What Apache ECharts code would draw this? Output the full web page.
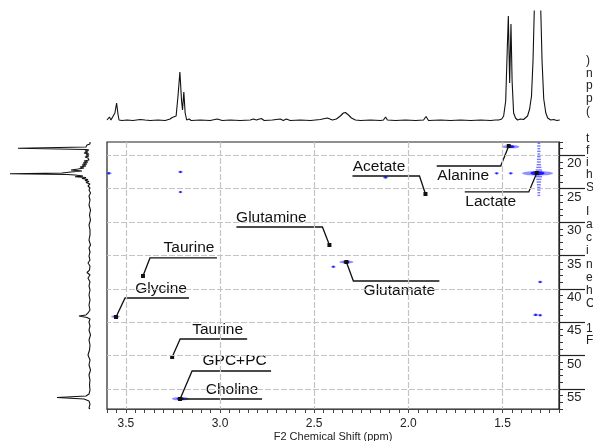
<!DOCTYPE html>
<html>
<head>
<meta charset="utf-8">
<script src="https://cdn.jsdelivr.net/npm/echarts@6/dist/echarts.min.js"></script>
<style>
html, body { margin: 0; padding: 0; background: #fff; }
#chart { width: 593px; height: 441px; }
</style>
</head>
<body>
<div id="chart"></div>
<script>
// F2 (1H) projection on top: [ppm, intensity]
var protonTrace = [
  [3.600, 1], [3.595, 1], [3.587, 4], [3.579, 1], [3.569, 2], [3.558, 8], [3.549, 18],
  [3.541, 6], [3.536, 1], [3.520, 0.5], [3.494, 1], [3.462, 0.5], [3.424, 1.5], [3.414, 2],
  [3.398, 1], [3.371, 0.5], [3.329, 1], [3.291, 0.5], [3.265, 2], [3.254, 3.5], [3.244, 2],
  [3.233, 5], [3.223, 25], [3.213, 49], [3.204, 20], [3.199, 11], [3.192, 29], [3.185, 8],
  [3.177, 1], [3.164, 2], [3.153, 0.5], [3.105, 1], [3.052, 0.5], [3.015, 2], [2.988, 0.5],
  [2.946, 1], [2.893, 0.5], [2.839, 1], [2.823, 2], [2.807, 1], [2.781, 2.5], [2.765, 0.5],
  [2.722, 1], [2.680, 2], [2.664, 0.5], [2.648, 2], [2.627, 0.5], [2.573, 1], [2.520, 0.5],
  [2.467, 1.5], [2.430, 3], [2.403, 1], [2.382, 2], [2.361, 5], [2.345, 8], [2.334, 8.5],
  [2.318, 6], [2.302, 3], [2.281, 1], [2.254, 0.5], [2.201, 1], [2.148, 0.5], [2.132, 1],
  [2.121, 4], [2.111, 1], [2.068, 0.5], [2.015, 1], [1.962, 0.5], [1.919, 1], [1.906, 4.5],
  [1.893, 0.5], [1.829, 1], [1.776, 0.5], [1.722, 1], [1.669, 0.5], [1.616, 1], [1.563, 0.5],
  [1.537, 1], [1.528, 3], [1.520, 1], [1.504, 2], [1.494, 5], [1.483, 20], [1.475, 70],
  [1.469, 105], [1.462, 38], [1.455, 97], [1.449, 40], [1.441, 8], [1.431, 3], [1.420, 1],
  [1.404, 2], [1.388, 1.5], [1.378, 3], [1.367, 5], [1.356, 12], [1.346, 25], [1.338, 60],
  [1.330, 120], [1.314, 400], [1.298, 120], [1.290, 60], [1.281, 22], [1.270, 8], [1.260, 3],
  [1.244, 1], [1.228, 1.5], [1.212, 0.5], [1.196, 1]
];

// F1 (13C) projection on the left: [ppm, intensity]
var carbonTrace = [
  [18.00, 2], [18.15, 4], [18.30, 2], [18.45, 5], [18.60, 3], [18.75, 6], [18.94, 74],
  [19.12, 6], [19.20, 3], [19.35, 7], [19.50, 4], [19.65, 8], [19.80, 3], [19.95, 6],
  [20.10, 3], [20.25, 7], [20.40, 4], [20.55, 6], [20.70, 3], [20.85, 8], [21.00, 4],
  [21.15, 9], [21.30, 5], [21.45, 10], [21.60, 6], [21.75, 12], [21.90, 8], [22.05, 14],
  [22.19, 21], [22.34, 10], [22.49, 21], [22.64, 30], [22.75, 82], [22.87, 25], [22.94, 17],
  [23.09, 9], [23.20, 17], [23.32, 6], [23.47, 10], [23.62, 4], [23.77, 7], [23.92, 3],
  [24.07, 6], [24.29, 2], [24.59, 4], [24.89, 2], [25.19, 3], [25.64, 1.5], [26.09, 3],
  [26.69, 2], [27.44, 3], [28.19, 1.5], [28.94, 2.5], [29.69, 1.5], [30.43, 3], [31.18, 2],
  [31.93, 2], [32.68, 3], [33.43, 1.5], [33.88, 3], [34.48, 2], [35.08, 3], [35.68, 2],
  [36.13, 4], [36.58, 2], [37.18, 2.5], [37.55, 5], [37.93, 2], [38.37, 4], [38.97, 2],
  [39.57, 3], [40.17, 2], [40.92, 3], [41.66, 2], [42.42, 3], [43.17, 2], [43.61, 4],
  [43.91, 6], [44.06, 13], [44.28, 5], [44.52, 2], [44.97, 3], [45.57, 2], [46.17, 3],
  [46.91, 1.5], [47.66, 3], [48.41, 2], [49.16, 2.5], [49.91, 4], [50.67, 2], [51.41, 3],
  [52.16, 1.5], [52.91, 3], [53.66, 2], [54.40, 2.5], [55.16, 2], [55.76, 3], [56.06, 6],
  [56.28, 35], [56.51, 8], [56.81, 3], [57.26, 2], [57.86, 3], [58.00, 2]
];

// 2D cross peaks: [F2 ppm, F1 ppm, intensity]
var crossPeaks = [
  [1.314, 22.69, 10], [1.456, 18.7, 5], [2.329, 35.98, 4], [3.555, 44.15, 2],
  [3.210, 56.45, 5], [3.590, 22.70, 1], [3.210, 22.50, 0.6], [3.210, 25.50, 0.4],
  [2.121, 23.30, 0.8], [2.398, 36.70, 0.6], [1.531, 22.70, 0.6], [1.456, 22.70, 0.6],
  [1.300, 38.97, 0.6], [1.324, 43.90, 0.8], [1.300, 43.95, 0.5]
];

// t1 noise ridge through the lactate peak: [F2 ppm, F1 ppm, intensity]
var t1Ridge = [
  [1.307, 18.2, 1], [1.307, 18.6, 1.5], [1.307, 19.0, 1], [1.307, 19.4, 1.5], [1.307, 19.8, 1],
  [1.307, 20.2, 1.5], [1.307, 20.6, 2], [1.307, 21.0, 2], [1.307, 21.4, 2.5], [1.307, 21.8, 3],
  [1.307, 22.2, 4], [1.307, 23.2, 4], [1.307, 23.6, 3], [1.307, 24.0, 2.5], [1.307, 24.4, 2],
  [1.307, 24.8, 1.5], [1.307, 25.2, 1.5], [1.307, 25.6, 1], [1.307, 26.0, 1]
];

// assignments and the points they mark: [F2 ppm, F1 ppm]
var metaboliteNames = ['Acetate', 'Alanine', 'Lactate', 'Glutamine', 'Glutamate',
  'Taurine', 'Glycine', 'Taurine', 'GPC+PC', 'Choline'];
var metabolitePoints = [
  [1.909, 25.79], [1.467, 18.60], [1.318, 22.64], [2.419, 33.43], [2.329, 35.98],
  [3.409, 38.07], [3.552, 44.22], [3.254, 50.21], [3.212, 56.50], [3.212, 56.50]
];

var xTickLabels = [3.5, 3.0, 2.5, 2.0, 1.5];
var yTickLabels = [20, 25, 30, 35, 40, 45, 50, 55];

// label placement (px, from the marked point): elbow dx, elbow dy, underline end dx, text dx, text dy
var labelLayout = [
  [-6, -18, -73, -46.5, -27], [-8, 20, -72, -45.5, 30], [-8, 19, -72, -46, 28.5],
  [-7, -18, -93, -58, -27.5], [7, 19, 93, 53, 28.5], [7, -18, 74, 46, -28],
  [9, -19, 73, 45, -28.5], [8, -18, 75, 45.5, -27.5], [12, -28, 91, 54.5, -38],
  [0, 0, 82, 52, -9]
];

var FONT = '"Liberation Sans", Arial, sans-serif';

var chart = echarts.init(document.getElementById('chart'));

function peakItem(params, api) {
  var p = api.coord([api.value(0), api.value(1)]);
  var s = api.value(2);
  var rx = 1.5 + s * 1.4, ry = 1.1 + s * 0.12;
  return {
    type: 'group',
    children: [
      { type: 'ellipse', shape: { cx: p[0], cy: p[1], rx: rx, ry: ry },
        style: { fill: 'rgba(70,70,255,0.6)' } },
      { type: 'ellipse', shape: { cx: p[0], cy: p[1], rx: rx * 0.45, ry: ry * 0.85 },
        style: { fill: '#1a1aff' } }
    ]
  };
}

function ridgeItem(params, api) {
  var p = api.coord([api.value(0), api.value(1)]);
  var w = 1.5 + api.value(2) * 1.2;
  return { type: 'rect', shape: { x: p[0] - w / 2, y: p[1] - 0.7, width: w, height: 1.4 },
    style: { fill: 'rgba(60,60,255,0.7)' } };
}

function labelItem(params, api) {
  var i = params.dataIndex;
  var L = labelLayout[i];
  var p = api.coord([api.value(0), api.value(1)]);
  var elbow = [p[0] + L[0], p[1] + L[1]];
  var end = [p[0] + L[2], elbow[1]];
  return {
    type: 'group',
    children: [
      { type: 'polyline', shape: { points: [p, elbow, end] },
        style: { stroke: '#111', lineWidth: 1.3, fill: null } },
      { type: 'rect', shape: { x: p[0] - 2, y: p[1] - 2, width: 4, height: 4 },
        style: { fill: '#111' } },
      { type: 'text', x: p[0] + L[3], y: p[1] + L[4],
        style: { text: metaboliteNames[i], fill: '#111', fontSize: 15.5, fontFamily: FONT,
          align: 'center', verticalAlign: 'middle' } }
    ]
  };
}

var strayText = [
  [')', 62], ['n', 75], ['p', 87], ['p', 100], ['(', 113],
  ['t', 140], ['f', 152], ['i', 164], ['h', 176], ['S', 189],
  ['I', 213], ['a', 226], ['c', 239], ['i', 252], ['n', 266], ['e', 279], ['h', 292], ['C', 305],
  ['1', 330], ['F', 342]
];

chart.setOption({
  animation: false,
  backgroundColor: '#fff',
  textStyle: { fontFamily: FONT },
  grid: [
    { left: 107, top: 142, width: 452, height: 267, show: true, borderColor: '#222', borderWidth: 1.2,
      outerBoundsMode: 'none', containLabel: false },
    { left: 107, top: 11, width: 452, height: 110, outerBoundsMode: 'none' },
    { left: 10, top: 142, width: 82, height: 267, outerBoundsMode: 'none' }
  ],
  xAxis: [
    {
      gridIndex: 0, type: 'value', min: 1.2, max: 3.6, inverse: true, interval: 0.05,
      position: 'bottom',
      name: 'F2 Chemical Shift (ppm)', nameLocation: 'middle', nameGap: 22, nameMoveOverlap: false,
      nameTextStyle: { fontSize: 11, color: '#222', fontFamily: FONT, verticalAlign: 'top' },
      axisLine: { show: true, lineStyle: { color: '#444', width: 1.2 } },
      axisTick: { show: true, length: 4, lineStyle: { color: '#444' } },
      axisLabel: {
        customValues: xTickLabels, fontSize: 12, color: '#222', margin: 9, fontFamily: FONT,
        formatter: function (v) { return v.toFixed(1); }
      },
      splitLine: { show: false }
    },
    { gridIndex: 1, type: 'value', min: 1.2, max: 3.6, inverse: true, show: false },
    { gridIndex: 2, type: 'value', min: 0, max: 82, inverse: true, show: false }
  ],
  yAxis: [
    {
      gridIndex: 0, type: 'value', min: 18, max: 58, inverse: true, interval: 1, position: 'right',
      axisLine: { show: true, lineStyle: { color: '#222', width: 1.2 } },
      axisTick: { show: true, length: 4, lineStyle: { color: '#333' } },
      axisLabel: { show: false },
      splitLine: { show: false }
    },
    {
      gridIndex: 0, type: 'value', min: 18, max: 58, inverse: true, position: 'right',
      axisLine: { show: false },
      axisTick: { show: true, customValues: yTickLabels, length: 26, lineStyle: { color: '#222', width: 1.2 } },
      axisLabel: {
        customValues: yTickLabels, fontSize: 13, color: '#222', margin: 8, fontFamily: FONT,
        verticalAlign: 'top', padding: [2, 0, 0, 0]
      },
      splitLine: { show: false }
    },
    { gridIndex: 1, type: 'value', min: 0, max: 110, show: false },
    { gridIndex: 2, type: 'value', min: 18, max: 58, inverse: true, show: false }
  ],
  series: [
    {
      type: 'line', xAxisIndex: 0, yAxisIndex: 0, data: [], z: 1, silent: true,
      markLine: {
        silent: true, symbol: ['none', 'none'], label: { show: false },
        lineStyle: { color: '#c4c4c4', type: [6, 2], width: 1.2 },
        data: xTickLabels.map(function (v) { return { xAxis: v }; })
          .concat(yTickLabels.map(function (v) { return { yAxis: v }; }))
      }
    },
    { type: 'custom', xAxisIndex: 0, yAxisIndex: 0, data: t1Ridge, renderItem: ridgeItem, z: 2, silent: true },
    { type: 'custom', xAxisIndex: 0, yAxisIndex: 0, data: crossPeaks, renderItem: peakItem, z: 3, silent: true },
    { type: 'custom', xAxisIndex: 0, yAxisIndex: 0, data: metabolitePoints, renderItem: labelItem, z: 4, silent: true, clip: false },
    {
      type: 'line', xAxisIndex: 1, yAxisIndex: 2, data: protonTrace, showSymbol: false, clip: true,
      lineStyle: { color: '#111', width: 1.1 }, silent: true
    },
    {
      type: 'line', xAxisIndex: 2, yAxisIndex: 3, data: carbonTrace, encode: { x: 1, y: 0 },
      showSymbol: false, clip: true, lineStyle: { color: '#111', width: 1.1 }, silent: true
    }
  ],
  graphic: strayText.map(function (t) {
    return { type: 'text', left: 586, top: t[1] - 7,
      style: { text: t[0], fontSize: 12, fill: '#222', fontFamily: FONT } };
  })
});
</script>
</body>
</html>
